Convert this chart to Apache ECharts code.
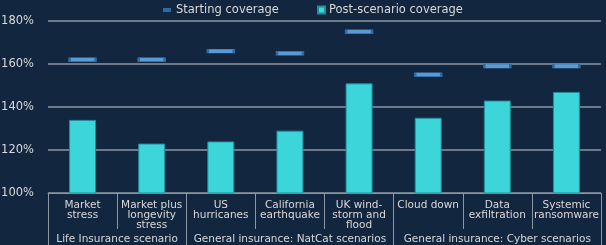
<!DOCTYPE html>
<html>
<head>
<meta charset="utf-8">
<script src="https://cdn.jsdelivr.net/npm/echarts@6/dist/echarts.min.js"></script>
<style>
  html, body { margin: 0; padding: 0; background: #12263f; }
  #main { width: 606px; height: 245px; }
</style>
</head>
<body>
<div id="main"></div>
<script>
// chart data
var categories = ['Market\nstress', 'Market plus\nlongevity\nstress', 'US\nhurricanes', 'California\nearthquake',
                  'UK wind-\nstorm and\nflood', 'Cloud down', 'Data\nexfiltration', 'Systemic\nransomware'];
var postScenario = [134, 123, 124, 129, 151, 135, 143, 147];
var startingCoverage = [162, 162, 166, 165, 175, 155, 159, 159];
var groupNames = ['Life Insurance scenario', 'General insurance: NatCat scenarios', 'General insurance: Cyber scenarios'];
var groupCenters = [1, 3.5, 6.5];
var groupBounds = [0, 2, 5, 8];
var yTicks = [100, 120, 140, 160, 180];

var textColor = '#d9d9d9';
var lineColor = '#8c97a4';
var font = 'DejaVu Sans, Liberation Sans, sans-serif';

var myChart = echarts.init(document.getElementById('main'));

var option = {
    backgroundColor: '#12263f',
    textStyle: { fontFamily: font },
    legend: [
        {
            data: ['Starting coverage'],
            left: 158, top: -1,
            icon: 'rect', itemWidth: 6, itemHeight: 2,
            textStyle: { color: textColor, fontSize: 11.5, fontFamily: font, padding: [0, 0, 0, 1] }
        },
        {
            data: ['Post-scenario coverage'],
            left: 312, top: -1,
            icon: 'rect', itemWidth: 7, itemHeight: 7,
            textStyle: { color: textColor, fontSize: 11.5, fontFamily: font, padding: [0, 0, 0, -1] }
        }
    ],
    grid: { left: 48, right: 5, top: 21, bottom: 52, outerBoundsMode: 'none' },
    xAxis: [
        {
            type: 'category',
            data: categories,
            axisLine: { show: true, lineStyle: { color: lineColor, width: 1 } },
            axisTick: { show: true, length: 36, lineStyle: { color: lineColor } },
            axisLabel: {
                interval: 0, color: textColor, fontSize: 10.5, lineHeight: 10,
                margin: 7, fontFamily: font
            }
        },
        {
            type: 'value',
            position: 'bottom',
            min: 0, max: 8,
            axisLine: { show: false },
            splitLine: { show: false },
            axisTick: { show: true, length: 52, customValues: groupBounds, lineStyle: { color: lineColor } },
            axisLabel: {
                customValues: groupCenters,
                color: textColor, fontSize: 10.5, margin: 41, fontFamily: font,
                formatter: function (v) {
                    var i = groupCenters.indexOf(v);
                    return i >= 0 ? groupNames[i] : '';
                }
            }
        }
    ],
    yAxis: {
        type: 'value',
        min: yTicks[0], max: yTicks[yTicks.length - 1], interval: 20,
        axisLine: { show: false },
        axisTick: { show: false },
        axisLabel: { formatter: '{value}%', color: textColor, fontSize: 11.5, margin: 14, fontFamily: font },
        splitLine: { lineStyle: { color: lineColor, width: 1.5 } }
    },
    series: [
        {
            name: 'Post-scenario coverage',
            type: 'bar',
            data: postScenario,
            barWidth: 27,
            itemStyle: { color: '#3bd5da', borderColor: '#1f8e9b', borderWidth: 1 },
            z: 2
        },
        {
            name: 'Starting coverage',
            type: 'scatter',
            data: startingCoverage,
            symbol: 'rect',
            symbolSize: [26, 4],
            itemStyle: { color: '#5b9bd5', borderColor: '#2f6aa3', borderWidth: 1, opacity: 1 },
            z: 3
        }
    ]
};

option && myChart.setOption(option);
window.onresize = myChart.resize;
</script>
</body>
</html>
